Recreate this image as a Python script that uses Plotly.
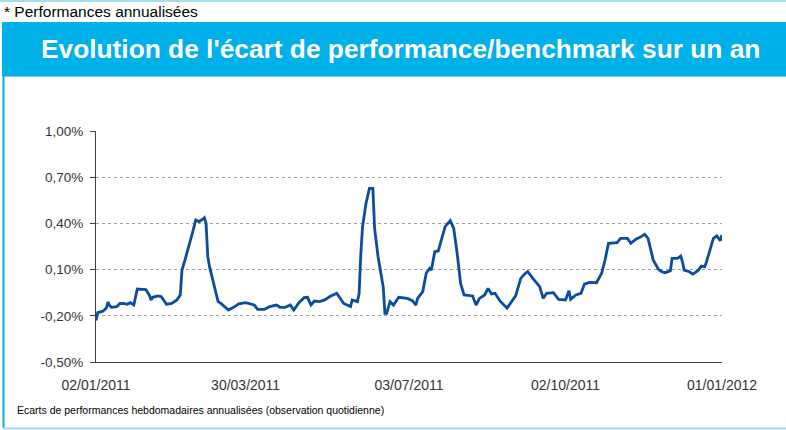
import plotly.graph_objects as go

# ---- data ----
dates = [
    "2011-01-02", "2011-01-03", "2011-01-06", "2011-01-08", "2011-01-09", "2011-01-10",
    "2011-01-11", "2011-01-14", "2011-01-16", "2011-01-18", "2011-01-20", "2011-01-22",
    "2011-01-24", "2011-01-25", "2011-01-26", "2011-01-29", "2011-01-31", "2011-02-02",
    "2011-02-03", "2011-02-04", "2011-02-07", "2011-02-09", "2011-02-11", "2011-02-12",
    "2011-02-15", "2011-02-18", "2011-02-20", "2011-02-21", "2011-02-23", "2011-02-25",
    "2011-02-27", "2011-03-01", "2011-03-03", "2011-03-05", "2011-03-06", "2011-03-07",
    "2011-03-08", "2011-03-09", "2011-03-11", "2011-03-12", "2011-03-14", "2011-03-16",
    "2011-03-20", "2011-03-23", "2011-03-26", "2011-03-30", "2011-04-02", "2011-04-04",
    "2011-04-06", "2011-04-10", "2011-04-13", "2011-04-17", "2011-04-19", "2011-04-22",
    "2011-04-25", "2011-04-27", "2011-04-30", "2011-05-03", "2011-05-05", "2011-05-07",
    "2011-05-09", "2011-05-12", "2011-05-15", "2011-05-18", "2011-05-22", "2011-05-26",
    "2011-05-30", "2011-05-31", "2011-06-03", "2011-06-04", "2011-06-05", "2011-06-06",
    "2011-06-08", "2011-06-10", "2011-06-12", "2011-06-13", "2011-06-15", "2011-06-17",
    "2011-06-18", "2011-06-19", "2011-06-20", "2011-06-22", "2011-06-24", "2011-06-27",
    "2011-07-02", "2011-07-05", "2011-07-07", "2011-07-08", "2011-07-11", "2011-07-13",
    "2011-07-15", "2011-07-16", "2011-07-18", "2011-07-20", "2011-07-21", "2011-07-24",
    "2011-07-27", "2011-07-29", "2011-07-31", "2011-08-02", "2011-08-04", "2011-08-09",
    "2011-08-11", "2011-08-13", "2011-08-16", "2011-08-18", "2011-08-20", "2011-08-22",
    "2011-08-25", "2011-08-29", "2011-09-03", "2011-09-06", "2011-09-08", "2011-09-10",
    "2011-09-13", "2011-09-17", "2011-09-19", "2011-09-21", "2011-09-25", "2011-09-28",
    "2011-10-02", "2011-10-04", "2011-10-05", "2011-10-08", "2011-10-11", "2011-10-13",
    "2011-10-16", "2011-10-20", "2011-10-23", "2011-10-25", "2011-10-27", "2011-11-01",
    "2011-11-03", "2011-11-07", "2011-11-09", "2011-11-12", "2011-11-15", "2011-11-17",
    "2011-11-19", "2011-11-21", "2011-11-22", "2011-11-25", "2011-11-27", "2011-11-29",
    "2011-12-02", "2011-12-03", "2011-12-06", "2011-12-08", "2011-12-09", "2011-12-10",
    "2011-12-13", "2011-12-15", "2011-12-18", "2011-12-20", "2011-12-22", "2011-12-23",
    "2011-12-25", "2011-12-27", "2011-12-29", "2011-12-31", "2012-01-01",
]

ecart_pct = [
    -0.23, -0.18, -0.17, -0.15, -0.11, -0.136,
    -0.145, -0.14, -0.12, -0.12, -0.125, -0.115,
    -0.13, -0.076, -0.026, -0.028, -0.03, -0.065,
    -0.097, -0.08, -0.071, -0.076, -0.108, -0.125,
    -0.12, -0.097, -0.065, 0.097, 0.173, 0.249,
    0.336, 0.422, 0.411, 0.427, 0.437, 0.40,
    0.184, 0.119, 0.032, -0.03, -0.108, -0.123,
    -0.162, -0.145, -0.123, -0.115, -0.125, -0.13,
    -0.158, -0.158, -0.14, -0.13, -0.145, -0.145,
    -0.13, -0.162, -0.115, -0.082, -0.08, -0.13,
    -0.104, -0.108, -0.097, -0.075, -0.054, -0.12,
    -0.14, -0.097, -0.108, -0.054, 0.206, 0.379,
    0.53, 0.628, 0.628, 0.368, 0.184, 0.054,
    -0.011, -0.184, -0.184, -0.108, -0.13, -0.08,
    -0.087, -0.102, -0.13, -0.087, -0.043, 0.076,
    0.108, 0.097, 0.216, 0.221, 0.26, 0.379,
    0.418, 0.368, 0.206, 0.011, -0.065, -0.071,
    -0.13, -0.087, -0.065, -0.022, -0.058, -0.054,
    -0.105, -0.15, -0.07, 0.043, 0.069, 0.088,
    0.043, -0.011, -0.087, -0.054, -0.05, -0.093,
    -0.097, -0.037, -0.093, -0.065, -0.054, 0.006,
    0.017, 0.015, 0.076, 0.162, 0.271, 0.275,
    0.303, 0.303, 0.271, 0.297, 0.314, 0.329,
    0.303, 0.206, 0.162, 0.102, 0.086, 0.08,
    0.093, 0.173, 0.173, 0.188, 0.151, 0.097,
    0.086, 0.071, 0.093, 0.123, 0.119, 0.151,
    0.227, 0.303, 0.318, 0.288, 0.325,
]

y_tick_values = [-0.5, -0.2, 0.1, 0.4, 0.7, 1.0]
y_tick_labels = ["-0,50%", "-0,20%", "0,10%", "0,40%", "0,70%", "1,00%"]
x_tick_values = ["2011-01-02", "2011-03-30", "2011-07-03", "2011-10-02", "2012-01-01"]
x_tick_labels = ["02/01/2011", "30/03/2011", "03/07/2011", "02/10/2011", "01/01/2012"]

title_text = "Evolution de l'écart de performance/benchmark sur un an"
note_top = "* Performances annualisées"
note_bottom = "Ecarts de performances hebdomadaires annualisées (observation quotidienne)"

# ---- layout geometry (pixels) ----
W, H = 786, 430
L, R, T, B = 96, 722, 131, 362


def px(x):
    return (x - L) / (R - L)


def py(y):
    return (B - y) / (B - T)


FONT = "Liberation Sans, Arial, sans-serif"
CYAN = "#00b0e8"
LIGHT = "#a6dcf2"

fig = go.Figure()
fig.add_trace(go.Scatter(
    x=dates, y=ecart_pct, mode="lines",
    line=dict(color="#0b4c9f", width=2.8),
    hoverinfo="skip", showlegend=False,
))

shapes = [
    dict(type="rect", xref="paper", yref="paper", x0=px(0), x1=px(W), y0=py(2), y1=py(0),
         fillcolor=LIGHT, line=dict(width=0), layer="below"),
    dict(type="rect", xref="paper", yref="paper", x0=px(2), x1=px(W), y0=py(76.5), y1=py(22),
         fillcolor=CYAN, line=dict(width=0), layer="below"),
    dict(type="rect", xref="paper", yref="paper", x0=px(2.5), x1=px(4.5), y0=py(428), y1=py(76),
         fillcolor=CYAN, line=dict(width=0), layer="below"),
    dict(type="rect", xref="paper", yref="paper", x0=px(3), x1=px(W), y0=py(429.5), y1=py(427.5),
         fillcolor=LIGHT, line=dict(width=0), layer="below"),
]

annotations = [
    dict(text=note_top, xref="paper", yref="paper", x=px(2), y=py(11), xanchor="left",
         yanchor="middle", showarrow=False, font=dict(family=FONT, size=15.5, color="#000000")),
    dict(text="<b>" + title_text + "</b>", xref="paper", yref="paper", x=px(400), y=py(49),
         xanchor="center", yanchor="middle", showarrow=False,
         font=dict(family=FONT, size=26.3, color="#ffffff")),
    dict(text=note_bottom, xref="paper", yref="paper", x=px(15), y=py(410), xanchor="left",
         yanchor="middle", showarrow=False, font=dict(family=FONT, size=10.5, color="#000000")),
]

fig.update_layout(
    width=W, height=H, autosize=False,
    margin=dict(l=L, r=W - R, t=T, b=H - B, pad=0),
    paper_bgcolor="#ffffff", plot_bgcolor="#ffffff",
    font=dict(family=FONT, size=14, color="#333333"),
    shapes=shapes, annotations=annotations,
    xaxis=dict(
        type="date", range=["2011-01-02", "2012-01-01"],
        tickvals=x_tick_values, ticktext=x_tick_labels,
        showgrid=False, zeroline=False, showline=True, linecolor="#404040", linewidth=1,
        ticks="", ticklabelstandoff=10, tickfont=dict(size=14, color="#333333"),
    ),
    yaxis=dict(
        range=[-0.5, 1.0], tickvals=y_tick_values, ticktext=y_tick_labels,
        showgrid=True, gridcolor="#a0a0a0", gridwidth=1, griddash="3px,3px",
        zeroline=False, showline=True, linecolor="#404040", linewidth=1,
        ticks="outside", ticklen=5, tickcolor="#404040",
        ticklabelstandoff=4, tickfont=dict(size=13.5, color="#333333"),
    ),
)

fig.write_html(
    "out.html",
    config={"displayModeBar": False, "staticPlot": True},
    post_script="document.body.style.margin='0';document.body.style.padding='0';",
)
